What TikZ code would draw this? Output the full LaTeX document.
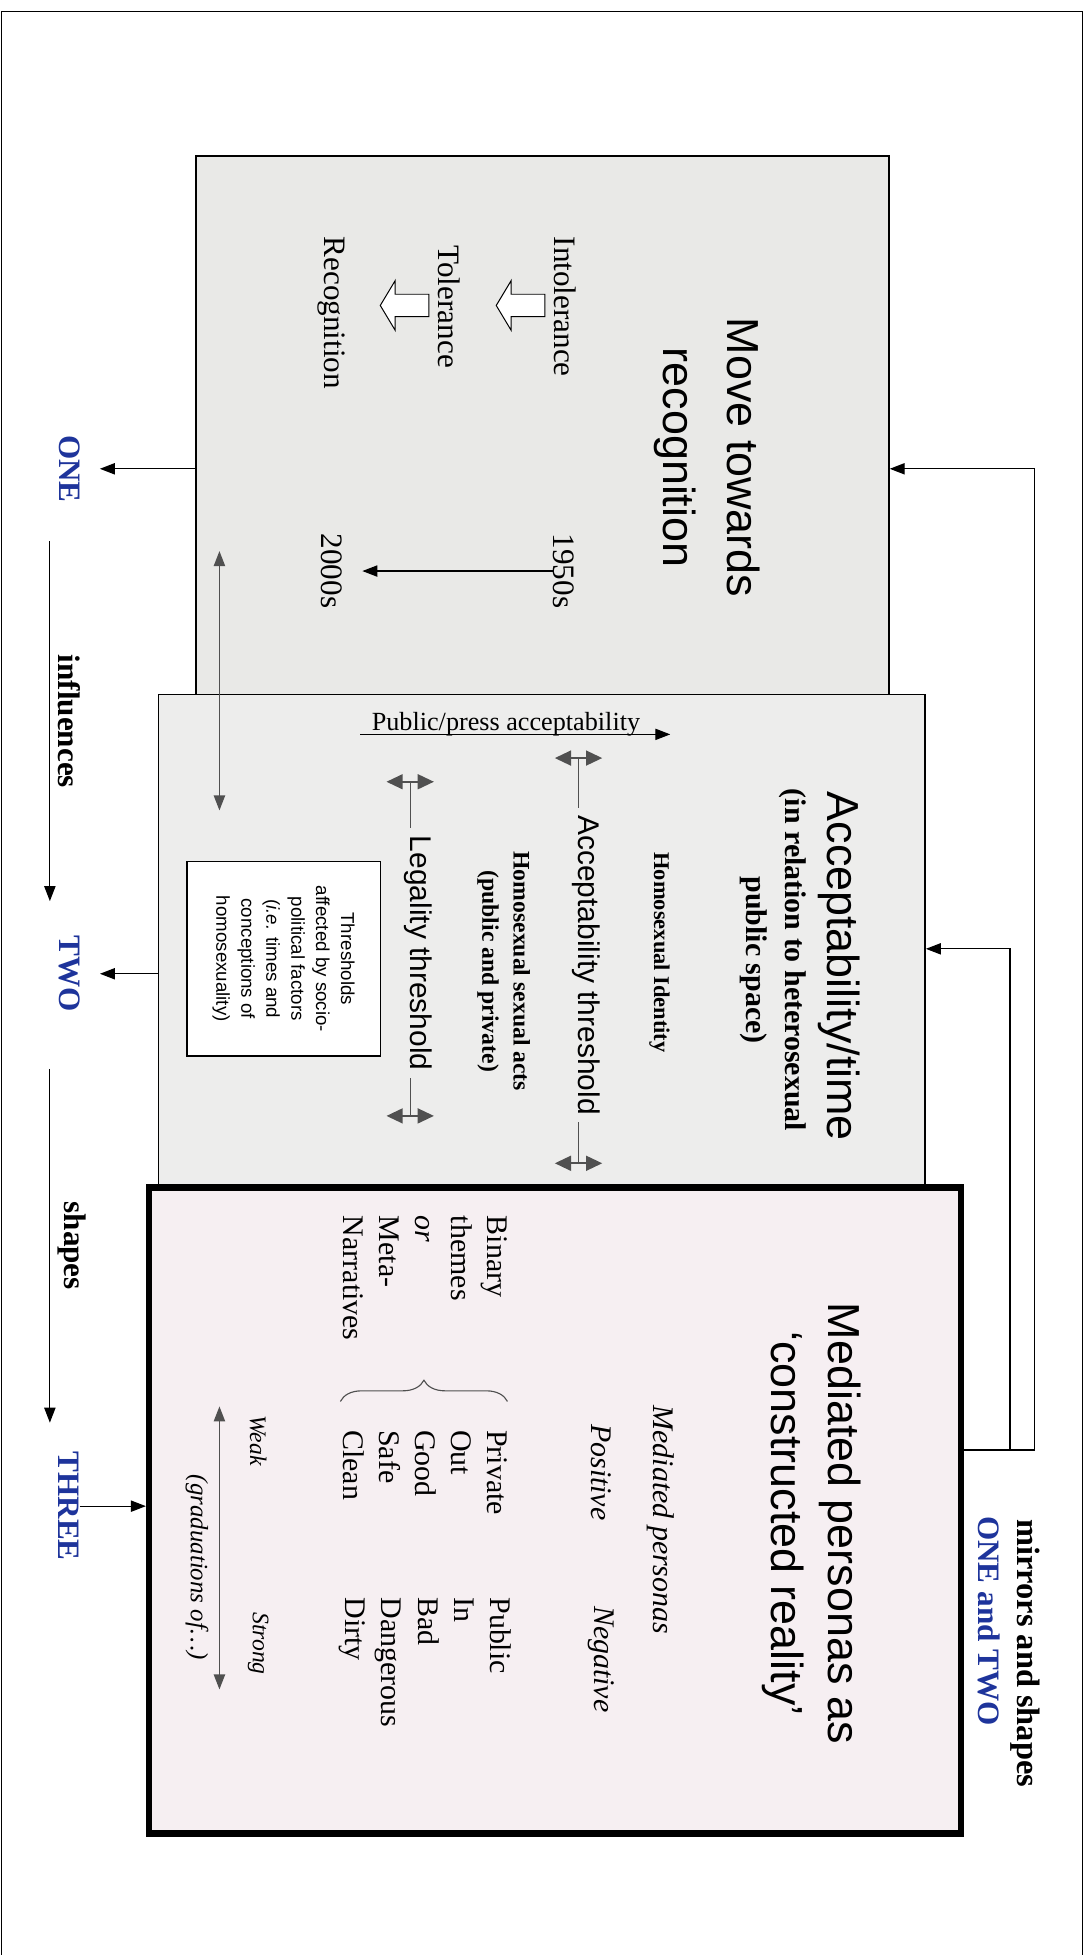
\documentclass[tikz,border=0pt]{standalone}
\usepackage{fontspec}
\setmainfont{Liberation Serif}
\setsansfont{Liberation Sans}
\usetikzlibrary{arrows.meta,decorations.pathreplacing,calc}
\definecolor{panelone}{RGB}{233,233,231}
\definecolor{paneltwo}{RGB}{237,237,236}
\definecolor{panelthree}{RGB}{246,239,242}
\definecolor{stageblue}{RGB}{30,52,155}
\definecolor{tickgrey}{RGB}{80,80,80}
\newcommand{\fsz}[2]{\fontsize{#1}{#2}\selectfont}
\tikzset{%
  panel/.style     = {draw, line width=1.2pt, inner sep=0pt},%
  vtext/.style     = {rotate=-90, align=center, inner sep=0pt},%
  titletext/.style = {vtext, font=\sffamily\fsz{36}{51}},%
  bodytext/.style  = {vtext, font=\fsz{24}{29}},%
  stagelab/.style  = {vtext, font=\bfseries\fsz{25}{30}, text=stageblue},%
  verblab/.style   = {vtext, font=\bfseries\fsz{25}{30}, anchor=south, inner sep=6pt},%
  arr/.style       = {-{Triangle[length=12pt,width=9pt]}, line width=1pt},%
  greyarr/.style   = {{Triangle[length=12pt,width=9pt]}-{Triangle[length=12pt,width=9pt]},%
                      line width=1.2pt, draw=tickgrey},%
  gaugearr/.style  = {{Triangle[length=13pt,width=12pt]}-{Triangle[length=13pt,width=12pt]},%
                      line width=1.4pt, draw=tickgrey}%
}

\begin{document}
\begin{tikzpicture}[x=1pt, y=-1pt]
	\useasboundingbox (0,0) rectangle (874,1568);
	\draw[line width=1pt] (1,1568) -- (1,9) -- (868,9) -- (868,1568);
	% the three panels
	\node (recog) at (435,341) [panel, fill=panelone,
		minimum width=556pt, minimum height=432pt] {};
	\node (accept) at (434.5,753.5) [panel, fill=paneltwo,
		minimum width=615pt, minimum height=393pt] {};
	\node (mediated) at (445,1211.5) [panel, fill=panelthree, line width=5pt,
		minimum width=651pt, minimum height=518pt] {};
	% ONE
	\node (movetitle) at (567,367) [titletext] {Move towards\\recognition};
	\node (intol) at (453,246) [bodytext, font=\fsz{25}{30}] {Intolerance};
	\node (toler) at (360,246) [bodytext, font=\fsz{25}{30}] {Tolerance};
	\node (recogn) at (266,251) [bodytext, font=\fsz{25}{30}] {Recognition};
	\node (y1950) at (452,458) [bodytext, font=\fsz{25}{30}] {1950s};
	\node (y2000) at (266,458) [bodytext, font=\fsz{25}{30}] {2000s};
	\foreach \ax in {305,398}
		\draw[line width=0.8pt, fill=white] (\ax,245) -- ++(12,-20) -- ++(0,11)
			-- ++(27,0) -- ++(0,18) -- ++(-27,0) -- ++(0,11) -- cycle;
	\draw[arr] (y1950.south) -- ([xshift=16pt]y2000.north);
	\coordinate (drift1) at (176,442);
	\coordinate (drift2) at (176,650);
	\draw[greyarr] (drift1) -- (drift2);
	% TWO
	\node (acctitle) at (673,775) [titletext] {Acceptability/time};
	\node (accsub) at (620,770) [vtext, font=\bfseries\fsz{24}{31}]
		{(in relation to heterosexual\\public space)};
	\node (homid) at (529,764) [vtext, font=\bfseries\fsz{18}{22}] {Homosexual Identity};
	\node (accthr) at (464,774) [vtext, anchor=base, inner sep=6pt,
		font=\sffamily\fsz{24}{29}] {Acceptability threshold};
	\node (sexacts) at (404,779) [vtext, font=\bfseries\fsz{19}{25}]
		{Homosexual sexual acts\\(public and private)};
	\node (legthr) at (329,764.5) [vtext, anchor=base, inner sep=6pt,
		font=\sffamily\fsz{24}{29}] {Legality threshold};
	\coordinate (acctop) at (464,608);
	\coordinate (accbot) at (464,933);
	\coordinate (legtop) at (329,627);
	\coordinate (legbot) at (329,895);
	\draw[line width=1pt, draw=tickgrey] (acctop) -- (accthr.base west)
		(accthr.base east) -- (accbot);
	\draw[line width=1pt, draw=tickgrey] (legtop) -- (legthr.base west)
		(legthr.base east) -- (legbot);
	\foreach \c in {acctop,accbot,legtop,legbot}
		\draw[gaugearr] ([xshift=-19pt]\c) -- ([xshift=19pt]\c);
	\node (pubpress) at (298,586) [anchor=base west, inner sep=0pt, font=\fsz{21}{25}]
		{Public/press acceptability};
	\draw[arr] ([xshift=-9pt,yshift=-3pt]pubpress.base west)
		-- ([xshift=24pt,yshift=-3pt]pubpress.base east);
	\node (thrbox) at (227.5,769) [vtext, draw, line width=1pt, fill=white,
		minimum width=156pt, minimum height=155pt, font=\sffamily\fsz{15}{20}]
		{Thresholds\\affected by socio-\\political factors\\(\textit{i.e.} times and\\conceptions of\\homosexuality)};
	% THREE
	\node (medtitle) at (651,1222) [titletext, font=\sffamily\fsz{36}{46}]
		{Mediated personas as\\‘constructed reality’};
	\node (medpers) at (530,1219) [vtext, font=\itshape\fsz{24}{29}] {Mediated personas};
	\node (positive) at (482,1142) [vtext, anchor=west, font=\itshape\fsz{24}{29}] {Positive};
	\node (negative) at (482,1288) [vtext, anchor=west, font=\itshape\fsz{24}{29}] {Negative};
	\node (binary) at (341,975) [bodytext, anchor=west, align=left]
		{Binary\\themes\\\textit{or}\\Meta-\\Narratives};
	\node (goodside) at (341,1147) [bodytext, anchor=west, align=left]
		{Private\\Out\\Good\\Safe\\Clean};
	\node (badside) at (341,1281) [bodytext, anchor=west, align=left]
		{Public\\In\\Bad\\Dangerous\\Dirty};
	\coordinate (br1) at (273,1124);
	\coordinate (br2) at (407,1124);
	\draw[decorate, decoration={brace, amplitude=17pt}, line width=0.9pt, draw=tickgrey]
		(br1) -- (br2);
	\node (weak) at (207,1135) [vtext, anchor=west, font=\itshape\fsz{19}{23}] {Weak};
	\node (strong) at (207,1293) [vtext, anchor=west, font=\itshape\fsz{19}{23}] {Strong};
	\node (gradu) at (158,1257) [vtext, font=\itshape\fsz{20}{24}] {(graduations of…)};
	\coordinate (weakend) at (176,1128);
	\coordinate (strongend) at (176,1355);
	\draw[greyarr] (weakend) -- (strongend);
	% stages and links
	\node (one) at (55.5,376) [stagelab] {ONE};
	\node (two) at (55.5,781) [stagelab] {TWO};
	\node (three) at (55.5,1208) [stagelab] {THREE};
	\draw[arr] (recog.west |- one) -- ([xshift=16pt]one.north);
	\draw[arr] (accept.west |- two) -- ([xshift=16pt]two.north);
	\draw[arr] (three.north) -- (mediated.west |- three);
	\draw[arr] ([xshift=-15.5pt,yshift=-31pt]one.east)
		-- node[verblab] {influences} ([xshift=-15.5pt,yshift=27.5pt]two.west);
	\draw[arr] ([xshift=-15.5pt,yshift=-45.5pt]two.east)
		-- node[verblab] {shapes} ([xshift=-15.5pt,yshift=23pt]three.west);
	\coordinate (loopA) at (830,1163);
	\coordinate (loopB) at (810,1163);
	\draw[arr] (mediated.east |- loopA) -- (loopA) |- (recog.east |- one);
	\draw[arr] (loopB) |- ([yshift=-7.5pt]accept.east);
	\node (mirrors) at (822,1326) [vtext, font=\bfseries\fsz{26}{30}] {mirrors and shapes};
	\node (onetwo) at (793,1300) [stagelab] {ONE and TWO};
\end{tikzpicture}
\end{document}
